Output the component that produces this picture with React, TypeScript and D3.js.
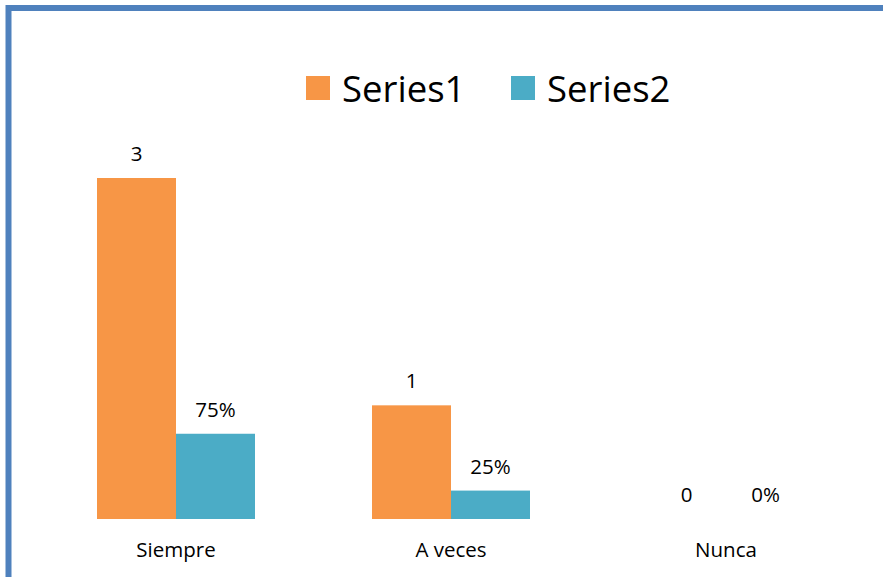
import React, { useEffect, useRef } from "react";
import * as d3 from "d3";

const categories = ["Siempre", "A veces", "Nunca"];
const series1 = [3, 1, 0];
const series2 = [0.75, 0.25, 0];
const seriesNames = ["Series1", "Series2"];
const colors = ["#F79646", "#4BACC6"];

const W = 883;
const H = 577;

export default function App() {
  const ref = useRef<SVGSVGElement>(null);

  useEffect(() => {
    const svg = d3.select(ref.current);
    svg.selectAll("*").remove();

    // chart border (only top and left are visible in the crop)
    svg.append("line")
      .attr("x1", 8.5).attr("x2", W).attr("y1", 8).attr("y2", 8)
      .attr("stroke", "#4F81BD").attr("stroke-width", 6);
    svg.append("line")
      .attr("x1", 8.5).attr("x2", 8.5).attr("y1", 5).attr("y2", H)
      .attr("stroke", "#4F81BD").attr("stroke-width", 6);

    const baseY = 519;
    const x = d3.scaleBand().domain(categories).range([38.5, 863.5]).paddingInner(117 / 275).paddingOuter(117 / 275 / 2);
    const x1 = d3.scaleBand().domain(seriesNames).range([0, x.bandwidth()]);
    const y = d3.scaleLinear().domain([0, 3]).range([baseY, 178]);

    const rows = categories.map((c, i) => ({ cat: c, vals: [series1[i], series2[i]] }));

    const g = svg.append("g");
    const groups = g.selectAll("g.cat").data(rows).enter().append("g")
      .attr("transform", d => `translate(${x(d.cat)},0)`);

    groups.selectAll("rect")
      .data(d => d.vals.map((v, j) => ({ v, j })))
      .enter().append("rect")
      .attr("x", d => x1(seriesNames[d.j])!)
      .attr("width", x1.bandwidth())
      .attr("y", d => y(d.v))
      .attr("height", d => baseY - y(d.v))
      .attr("fill", d => colors[d.j]);

    groups.selectAll("text.val")
      .data(d => d.vals.map((v, j) => ({ v, j })))
      .enter().append("text")
      .attr("class", "val")
      .attr("x", d => x1(seriesNames[d.j])! + x1.bandwidth() / 2)
      .attr("y", d => y(d.v) - 17)
      .attr("text-anchor", "middle")
      .attr("font-family", "Open Sans")
      .attr("font-size", 20.5)
      .attr("fill", "#000")
      .text(d => d.j === 0 ? d3.format("d")(d.v) : d3.format(".0%")(d.v));

    // category labels
    g.selectAll("text.cat").data(categories).enter().append("text")
      .attr("x", d => x(d)! + x.bandwidth() / 2)
      .attr("y", 557)
      .attr("text-anchor", "middle")
      .attr("font-family", "Open Sans")
      .attr("font-size", 20.5)
      .attr("fill", "#000")
      .text(d => d);

    // legend
    const legendX = [306, 511];
    const leg = svg.append("g");
    seriesNames.forEach((name, i) => {
      leg.append("rect")
        .attr("x", legendX[i]).attr("y", 76)
        .attr("width", 24).attr("height", 24)
        .attr("fill", colors[i]);
      leg.append("text")
        .attr("x", legendX[i] + 36).attr("y", 102)
        .attr("font-family", "Open Sans")
        .attr("font-size", 36.5)
        .attr("fill", "#000")
        .text(name);
    });
  }, []);

  return (
    <svg ref={ref} width={W} height={H}
      style={{ position: "absolute", left: 0, top: 0, background: "#fff" }} />
  );
}
